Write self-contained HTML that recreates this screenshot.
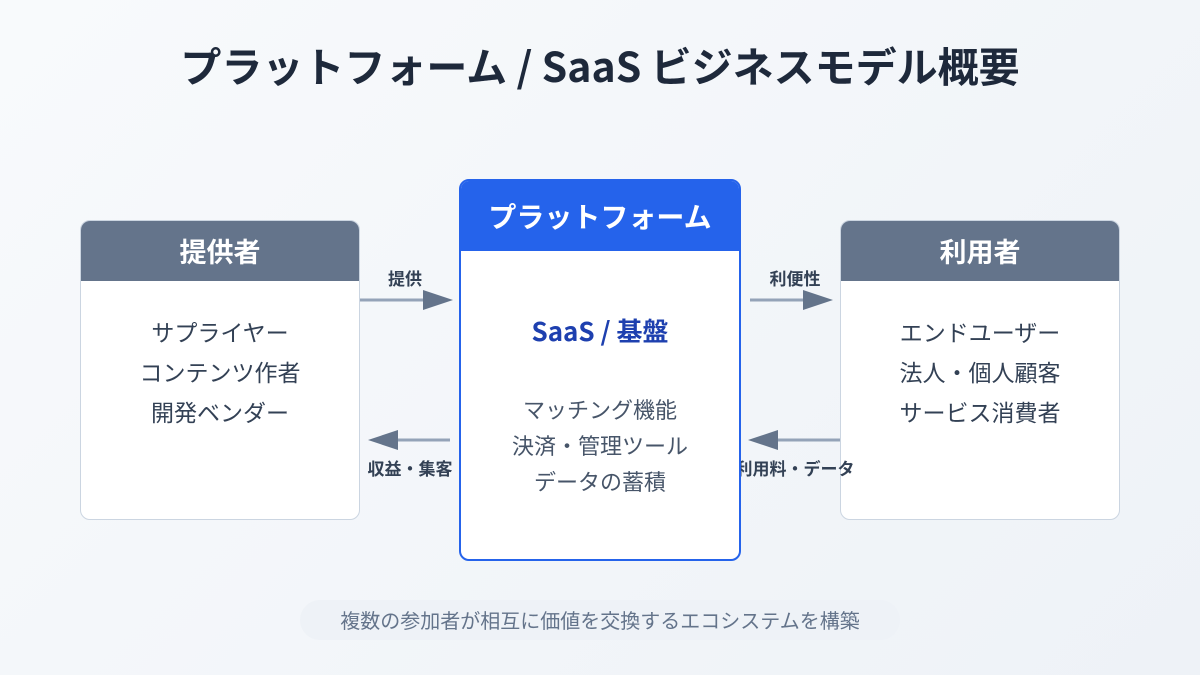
<!DOCTYPE html>
<html><head><meta charset="utf-8"><style>
*{margin:0;padding:0;box-sizing:border-box}
body{width:1200px;height:675px;overflow:hidden;background:linear-gradient(135deg,#f8fafc,#eef2f7);font-family:"Noto Sans CJK JP","Liberation Sans",sans-serif;position:relative}
.a{position:absolute}
.t{position:absolute;left:0;width:1200px;text-align:center}
.box{position:absolute;background:#fff;border:1.5px solid #cbd5e1;border-radius:10px;overflow:hidden}
.hd{height:60px;background:#64748b;color:#fff;font-weight:bold;font-size:27px;text-align:center;line-height:60px}
.bd{text-align:center;color:#334155;font-size:23px;line-height:40px}
.lbl{position:absolute;font-size:17px;font-weight:bold;color:#334155;text-align:center;line-height:20px;white-space:nowrap}
</style></head><body>
<div class="t" style="top:36px;font-size:41px;font-weight:bold;color:#1e293b;line-height:56px">プラットフォーム / SaaS ビジネスモデル概要</div>

<div class="box" style="left:80px;top:220px;width:280px;height:300px">
<div class="hd">提供者</div>
<div class="bd" style="padding-top:30px">サプライヤー<br>コンテンツ作者<br>開発ベンダー</div></div>

<div class="box" style="left:840px;top:220px;width:280px;height:300px">
<div class="hd">利用者</div>
<div class="bd" style="padding-top:30px">エンドユーザー<br>法人・個人顧客<br>サービス消費者</div></div>

<svg class="a" style="left:0;top:0" width="1200" height="675">
<line x1="360" y1="300" x2="426" y2="300" stroke="#94a3b8" stroke-width="3"/>
<polygon points="423,290 453,300 423,310" fill="#64748b"/>
<line x1="750" y1="300" x2="810" y2="300" stroke="#94a3b8" stroke-width="3"/>
<polygon points="803,290 833,300 803,310" fill="#64748b"/>
<line x1="395" y1="440" x2="450" y2="440" stroke="#94a3b8" stroke-width="3"/>
<polygon points="398,430 368,440 398,450" fill="#64748b"/>
<line x1="775" y1="440" x2="840" y2="440" stroke="#94a3b8" stroke-width="3"/>
<polygon points="778,430 748,440 778,450" fill="#64748b"/>
</svg>
<div class="lbl" style="left:370px;top:268px;width:70px">提供</div>
<div class="lbl" style="left:745px;top:268px;width:100px">利便性</div>
<div class="lbl" style="left:350px;top:458px;width:120px">収益・集客</div>
<div class="lbl" style="left:725px;top:458px;width:140px">利用料・データ</div>

<div class="box" style="left:459px;top:179px;width:282px;height:382px;border:2.5px solid #2563eb;border-radius:10px">
<div class="hd" style="background:#2563eb;height:70px;line-height:70px;font-size:28px">プラットフォーム</div>
<div style="text-align:center;color:#1e40af;font-weight:bold;font-size:26px;margin-top:64px;line-height:32px">SaaS / 基盤</div>
<div class="bd" style="margin-top:44px;color:#475569;font-size:22px;line-height:36px">マッチング機能<br>決済・管理ツール<br>データの蓄積</div></div>

<div class="a" style="left:300px;top:600px;width:600px;height:40px;border-radius:20px;background:#eef2f7"></div>
<div class="t" style="top:606px;font-size:20px;color:#64748b;line-height:28px">複数の参加者が相互に価値を交換するエコシステムを構築</div>
</body></html>
